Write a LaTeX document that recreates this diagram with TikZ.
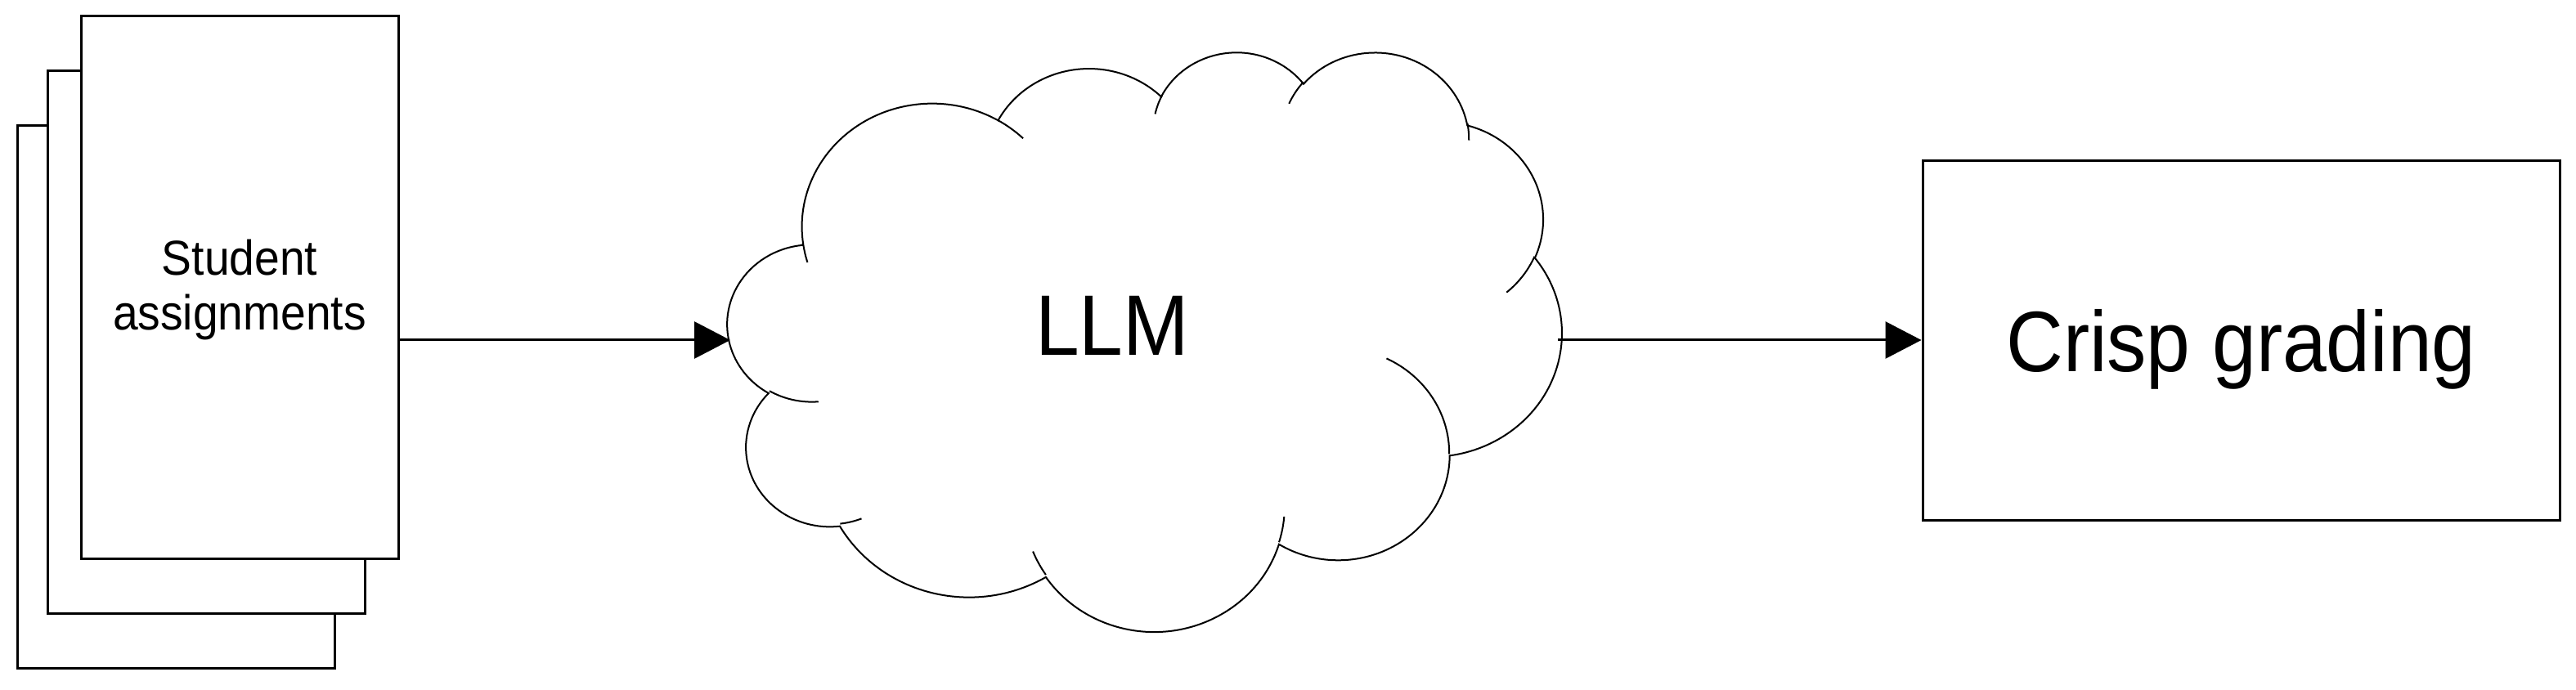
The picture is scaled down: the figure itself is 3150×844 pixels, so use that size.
\documentclass[tikz,border=0pt]{standalone}
\usepackage{fontspec}
\setmainfont{Liberation Sans}
\usepackage{graphicx}
\usetikzlibrary{arrows.meta}

% convert a visual-angle elliptic arc (DrawingML style) into parametric angles
\newcommand\mkarc[5]{%
  \pgfmathsetmacro\cvtA{atan2((#2)*sin(#4),(#3)*cos(#4))}%
  \pgfmathsetmacro\cvtB{atan2((#2)*sin((#4)+(#5)),(#3)*cos((#4)+(#5)))}%
  \pgfmathsetmacro\cvtB{(\cvtB<\cvtA) ? (\cvtB+360) : (\cvtB)}%
  \expandafter\xdef\csname clds#1\endcsname{\cvtA}%
  \expandafter\xdef\csname clde#1\endcsname{\cvtB}%
  \expandafter\xdef\csname cldx#1\endcsname{#2}%
  \expandafter\xdef\csname cldy#1\endcsname{#3}%
}
% main outline arcs
\mkarc{a}{67.53}{91.90}{-190.4875}{123.7805}
\mkarc{b}{53.33}{72.67}{-144.1024}{89.9452}
\mkarc{c}{43.65}{59.45}{-145.8079}{99.7230}
\mkarc{d}{48.57}{65.95}{-130.9861}{117.2417}
\mkarc{e}{53.33}{72.73}{-78.7089}{109.0269}
\mkarc{f}{67.75}{92.20}{-46.2673}{130.2690}
\mkarc{g}{57.85}{78.67}{0.6250}{114.0333}
\mkarc{h}{67.52}{92.15}{22.4516}{115.1726}
\mkarc{i}{77.20}{105.43}{66.2426}{75.7110}
\mkarc{j}{43.60}{59.18}{-274.9421}{146.7356}
\mkarc{k}{43.45}{59.45}{-246.8285}{152.5189}
% inner tails
\mkarc{A}{43.45}{59.45}{86.7420}{26.4295}
\mkarc{B}{43.60}{59.18}{73.6105}{11.4475}
\mkarc{C}{67.52}{92.15}{137.6242}{14.0811}
\mkarc{D}{67.52}{92.15}{6.4533}{15.9984}
\mkarc{E}{57.85}{78.67}{-70.2924}{70.9174}
\mkarc{F}{53.33}{72.73}{30.3180}{27.7515}
\mkarc{G}{48.57}{65.95}{-13.7443}{14.8589}
\mkarc{H}{48.57}{65.95}{-149.1815}{18.1954}
\mkarc{I}{43.65}{59.45}{-163.4943}{17.6864}
\mkarc{J}{67.53}{91.90}{-66.7070}{12.3194}
\mkarc{K}{67.53}{91.90}{157.6544}{11.8582}

\tikzset{
  docbox/.style={draw=black, fill=white, line width=0.75pt, inner sep=0pt,
    minimum width=97pt, minimum height=166pt,
    font=\fontsize{15pt}{16.75pt}\selectfont},
  gradebox/.style={draw=black, fill=white, line width=0.75pt, inner sep=0pt,
    minimum width=194.75pt, minimum height=110pt,
    text height=18.75pt, text depth=0pt,
    font=\fontsize{26.25pt}{30pt}\selectfont},
  bigtext/.style={inner sep=0pt, font=\fontsize{26.25pt}{30pt}\selectfont},
  cloudline/.style={draw=black, line width=0.5pt},
  arr/.style={draw=black, line width=0.75pt, -{Triangle[length=11pt,width=11.25pt]}}
}

\begin{document}
\begin{tikzpicture}[x=0.25pt, y=-0.25pt]
\useasboundingbox (0,0) rectangle (3150,844);

% stacked documents
\node[docbox] (back) at (215,485.5) {};
\node[docbox] (mid) at (252.5,419) {};
\node[docbox] (front) at (293,352)
  {\raisebox{-1.25pt}[\height][\depth]{\scalebox{0.92}[1]{\begin{tabular}{@{}c@{}}Student\\assignments\end{tabular}}}};

% cloud
\begin{scope}[shift={(890,62)}, x=0.59pt, y=-0.41pt]
\draw[cloudline] (39.00,143.70)
  arc[x radius=\cldxa, y radius=\cldya, start angle=\cldsa, end angle=\cldea]
  arc[x radius=\cldxb, y radius=\cldyb, start angle=\cldsb, end angle=\cldeb]
  arc[x radius=\cldxc, y radius=\cldyc, start angle=\cldsc, end angle=\cldec]
  arc[x radius=\cldxd, y radius=\cldyd, start angle=\cldsd, end angle=\clded]
  arc[x radius=\cldxe, y radius=\cldye, start angle=\cldse, end angle=\cldee]
  arc[x radius=\cldxf, y radius=\cldyf, start angle=\cldsf, end angle=\cldef]
  arc[x radius=\cldxg, y radius=\cldyg, start angle=\cldsg, end angle=\cldeg]
  arc[x radius=\cldxh, y radius=\cldyh, start angle=\cldsh, end angle=\cldeh]
  arc[x radius=\cldxi, y radius=\cldyi, start angle=\cldsi, end angle=\cldei]
  arc[x radius=\cldxj, y radius=\cldyj, start angle=\cldsj, end angle=\cldej]
  arc[x radius=\cldxk, y radius=\cldyk, start angle=\cldsk, end angle=\cldek]
  -- cycle;
\draw[cloudline]
  (46.93,261.77) arc[x radius=\cldxA, y radius=\cldyA, start angle=\cldsA, end angle=\cldeA]
  (69.28,348.99) arc[x radius=\cldxB, y radius=\cldyB, start angle=\cldsB, end angle=\cldeB]
  (164.78,390.90) arc[x radius=\cldxC, y radius=\cldyC, start angle=\cldsC, end angle=\cldeC]
  (288.27,347.51) arc[x radius=\cldxD, y radius=\cldyD, start angle=\cldsD, end angle=\cldeD]
  (341.29,229.54) arc[x radius=\cldxE, y radius=\cldyE, start angle=\cldsE, end angle=\cldeE]
  (417.98,153.54) arc[x radius=\cldxF, y radius=\cldyF, start angle=\cldsF, end angle=\cldeF]
  (383.24,54.26) arc[x radius=\cldxG, y radius=\cldyG, start angle=\cldsG, end angle=\cldeG]
  (290.78,39.52) arc[x radius=\cldxH, y radius=\cldyH, start angle=\cldsH, end angle=\cldeH]
  (221.41,47.20) arc[x radius=\cldxI, y radius=\cldyI, start angle=\cldsI, end angle=\cldeI]
  (140.00,51.92) arc[x radius=\cldxJ, y radius=\cldyJ, start angle=\cldsJ, end angle=\cldeJ]
  (41.27,157.89) arc[x radius=\cldxK, y radius=\cldyK, start angle=\cldsK, end angle=\cldeK];
\end{scope}

\node[bigtext, anchor=base] (llm) at (1360,435) {\scalebox{0.92}[1]{LLM}};
\coordinate (cl) at (893,416);
\coordinate (cr) at (1905,416);

% result box
\node[gradebox] (crisp) at (2740.5,417) {\scalebox{0.92}[1]{Crisp grading}};

% connectors
\draw[arr] (front.east |- cl) -- (cl);
\draw[arr] (cr) -- (crisp.west |- cr);
\end{tikzpicture}
\end{document}
